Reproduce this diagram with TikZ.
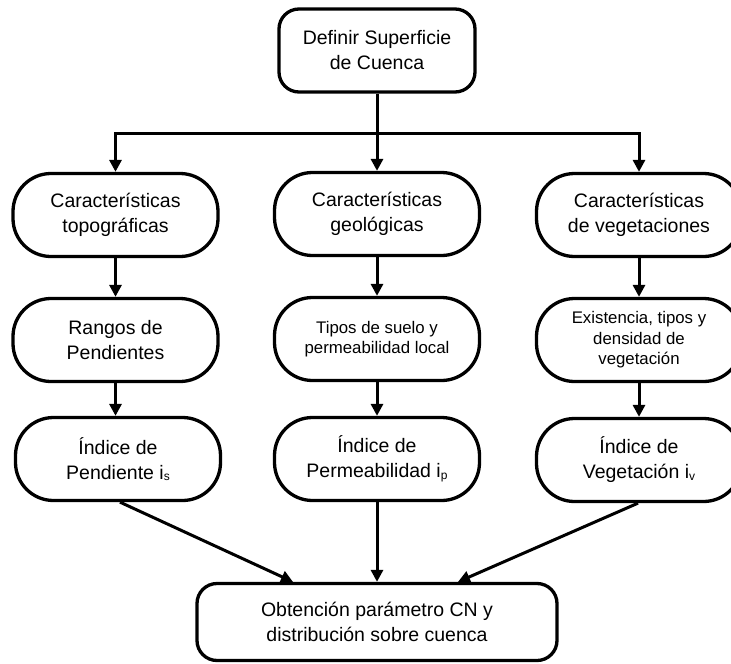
\documentclass[tikz,border=0pt]{standalone}
\usepackage{fontspec}
\setmainfont{Liberation Sans}
\usetikzlibrary{arrows.meta}
\newcommand\bigtxt{\fontsize{19.5}{25}\selectfont}
\newcommand\smalltxt{\fontsize{16.8}{20.5}\selectfont}
\newcommand\subtxt[1]{\raisebox{-1.5pt}{\fontsize{12}{12}\selectfont #1}}
\tikzset{
  box/.style={draw=black, fill=white, line width=3.3pt, rounded corners=38pt,
    minimum width=205pt, minimum height=83pt, align=center, font=\bigtxt,
    text=black, inner sep=0pt},
  flatbox/.style={box, rounded corners=20pt},
  conn/.style={line width=3pt, -{Triangle[length=12pt,width=12pt]}},
}
\begin{document}
\begin{tikzpicture}[x=1pt,y=-1pt]
\useasboundingbox (0,0) rectangle (731,664);
\fill[white] (0,0) rectangle (731,664);
\clip (0,0) rectangle (731,664);

\node[flatbox, minimum width=196pt] (top) at (377,50.5) {Definir Superficie\\de Cuenca};

\node[box] (c1) at (115.5,215) {Características\\topográficas};
\node[box] (c2) at (377,214) {Características\\geológicas};
\node[box] (c3) at (639,215) {Características\\de vegetaciones};

\node[box] (r1) at (115.5,340) {Rangos de\\Pendientes};
\node[box, font=\smalltxt] (r2) at (377,339) {Tipos de suelo y\\permeabilidad local};
\node[box, font=\smalltxt] (r3) at (639,340) {Existencia, tipos y\\densidad de\\vegetación};

\node[box] (i1) at (118,459) {Índice de\\Pendiente i\subtxt{s}};
\node[box] (i2) at (377,459) {Índice de\\Permeabilidad i\subtxt{p}};
\node[box] (i3) at (639,460) {Índice de\\Vegetación i\subtxt{v}};

\node[flatbox, minimum width=360pt, minimum height=77pt] (bot) at (377,622)
  {Obtención parámetro CN y\\distribución sobre cuenca};

\coordinate (jM) at (377,133);

\draw[conn] (top) -- (c2);
\draw[conn] (jM) -| (c1);
\draw[conn] (jM) -| (c3);

\draw[conn] (c1) -- (r1);
\draw[conn] (c2) -- (r2);
\draw[conn] (c3) -- (r3);

\draw[conn] (r1.south) -- (r1.south |- i1.north);
\draw[conn] (r2) -- (i2);
\draw[conn] (r3) -- (i3);

\draw[conn] ([xshift=2pt]i1.south) -- ([xshift=-84pt]bot.north);
\draw[conn] (i2) -- (bot);
\draw[conn] ([xshift=-1pt]i3.south) -- ([xshift=81pt]bot.north);
\end{tikzpicture}
\end{document}
